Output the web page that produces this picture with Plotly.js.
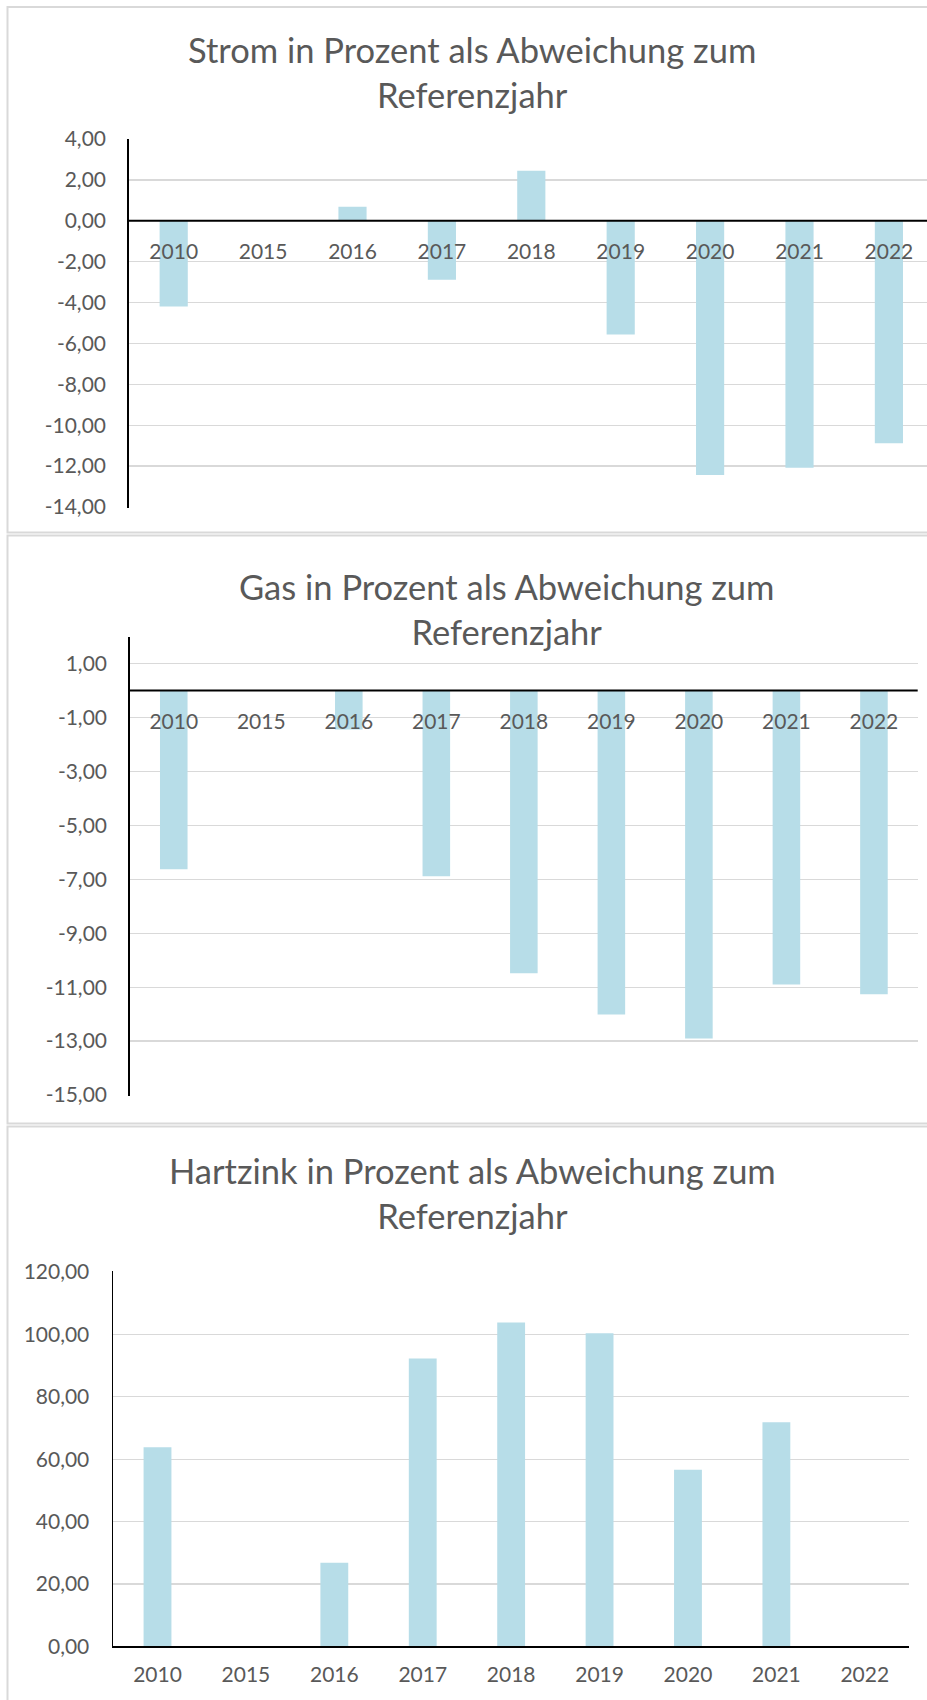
<!DOCTYPE html>
<html>
<head>
<meta charset="utf-8">
<script src="https://cdn.plot.ly/plotly-3.0.1.min.js"></script>
<style>
  html, body { margin: 0; padding: 0; background: #ffffff; }
  #chart { width: 927px; height: 1700px; }
</style>
</head>
<body>
<div id="chart"></div>
<script>
// ---- Data ----
const categories = ['2010', '2015', '2016', '2017', '2018', '2019', '2020', '2021', '2022'];
const stromValues = [-4.19, 0, 0.68, -2.88, 2.45, -5.56, -12.44, -12.08, -10.88];
const gasValues = [-6.63, 0, -1.44, -6.89, -10.48, -12.01, -12.90, -10.90, -11.26];
const hartzinkValues = [63.8, 0, 26.8, 92.3, 103.8, 100.4, 56.6, 71.8, null];

const stromTicks = [4, 2, 0, -2, -4, -6, -8, -10, -12, -14];
const gasTicks = [1, -1, -3, -5, -7, -9, -11, -13, -15];
const hartzinkTicks = [120, 100, 80, 60, 40, 20, 0];

const titles = [
  'Strom in Prozent als Abweichung zum<br>Referenzjahr',
  'Gas in Prozent als Abweichung zum<br>Referenzjahr',
  'Hartzink in Prozent als Abweichung zum<br>Referenzjahr'
];

// ---- Helpers / styles ----
const W = 927, H = 1700;
const px = p => p / W;
const py = p => 1 - p / H;
const fmt = v => v.toFixed(2).replace('.', ',');
const FONT = 'Lato, "Open Sans", sans-serif';
const TEXT = '#595959';
const BAR = '#b7dde8';
const GRID = '#d9d9d9';

function freePos(domain, range) {
  return domain[0] + (0 - range[0]) / (range[1] - range[0]) * (domain[1] - domain[0]);
}

// small padding so that the boundary gridlines are kept
const y1Dom = [py(507.6), py(139)], y1Range = [-14.03, 4];
const y2Dom = [py(1095.8), py(636.7)], y2Range = [-15.03, 2];
const y3Dom = [py(1646.3), py(1271.4)], y3Range = [0, 120.2];

const traces = [
  { type: 'bar', x: categories, y: stromValues, xaxis: 'x', yaxis: 'y', marker: { color: BAR }, hoverinfo: 'skip' },
  { type: 'bar', x: categories, y: gasValues, xaxis: 'x2', yaxis: 'y2', marker: { color: BAR }, hoverinfo: 'skip' },
  { type: 'bar', x: categories, y: hartzinkValues, xaxis: 'x3', yaxis: 'y3', marker: { color: BAR }, hoverinfo: 'skip' }
];

const tickFont = { family: FONT, size: 21, color: TEXT };

function yAxis(dom, range, ticks, anchor, standoff) {
  return {
    domain: dom, range: range, anchor: anchor,
    tickmode: 'array', tickvals: ticks, ticktext: ticks.map(fmt),
    showgrid: true, gridcolor: GRID, gridwidth: 1.3,
    zeroline: false, showline: true, linecolor: '#000000', linewidth: 1.8,
    ticks: '', ticklabelstandoff: standoff, tickfont: tickFont, fixedrange: true
  };
}

function xAxis(dom, range, extra) {
  return Object.assign({
    domain: dom, range: range, type: 'category',
    showgrid: false, zeroline: false, showline: false, ticks: '',
    tickfont: tickFont, fixedrange: true, ticklabelstandoff: 16
  }, extra);
}

const x1Dom = [px(129), 1], x1Range = [-0.5, -0.5 + 798 / 89.4];
const x2Dom = [px(130), px(917.7)], x2Range = [-0.5, 8.5];
const x3Dom = [px(113.3), px(909)], x3Range = [-0.5, 8.5];

const layout = {
  width: W, height: H,
  margin: { l: 0, r: 0, t: 0, b: 0 },
  paper_bgcolor: '#ffffff', plot_bgcolor: 'rgba(0,0,0,0)',
  showlegend: false,
  bargap: 0.685,
  font: { family: FONT, color: TEXT },
  xaxis: xAxis(x1Dom, x1Range, { anchor: 'free', position: freePos(y1Dom, y1Range) }),
  yaxis: yAxis(y1Dom, y1Range, stromTicks, 'x', 17),
  xaxis2: xAxis(x2Dom, x2Range, { anchor: 'free', position: freePos(y2Dom, y2Range) }),
  yaxis2: yAxis(y2Dom, y2Range, gasTicks, 'x2', 17),
  xaxis3: xAxis(x3Dom, x3Range, { anchor: 'y3', showline: true, linecolor: '#000000', linewidth: 2, ticklabelstandoff: 8 }),
  yaxis3: yAxis(y3Dom, y3Range, hartzinkTicks, 'x3', 18),
  annotations: [
    { text: titles[0], xref: 'paper', yref: 'paper', x: px(472), y: py(72), xanchor: 'center', yanchor: 'middle', showarrow: false, font: { family: FONT, size: 34.5, color: TEXT } },
    { text: titles[1], xref: 'paper', yref: 'paper', x: px(506), y: py(608.5), xanchor: 'center', yanchor: 'middle', showarrow: false, font: { family: FONT, size: 34.5, color: TEXT } },
    { text: titles[2], xref: 'paper', yref: 'paper', x: px(472.5), y: py(1193), xanchor: 'center', yanchor: 'middle', showarrow: false, font: { family: FONT, size: 34.5, color: TEXT } }
  ],
  shapes: [
    // chart frames
    { type: 'rect', xref: 'paper', yref: 'paper', x0: px(7.5), x1: px(960), y0: py(532.5), y1: py(7), line: { color: GRID, width: 2 }, layer: 'below' },
    { type: 'rect', xref: 'paper', yref: 'paper', x0: px(7.5), x1: px(960), y0: py(1123.5), y1: py(535.5), line: { color: GRID, width: 2 }, layer: 'below' },
    { type: 'rect', xref: 'paper', yref: 'paper', x0: px(7.5), x1: px(960), y0: py(1760), y1: py(1126.5), line: { color: GRID, width: 2 }, layer: 'below' },
    // zero lines (horizontal category axes at value 0)
    { type: 'line', xref: 'x domain', yref: 'y', x0: 0, x1: 1, y0: 0, y1: 0, line: { color: '#000000', width: 2 }, layer: 'above' },
    { type: 'line', xref: 'x2 domain', yref: 'y2', x0: 0, x1: 1, y0: 0, y1: 0, line: { color: '#000000', width: 2 }, layer: 'above' }
  ]
};

Plotly.newPlot('chart', traces, layout, { displayModeBar: false, staticPlot: true });
</script>
</body>
</html>
